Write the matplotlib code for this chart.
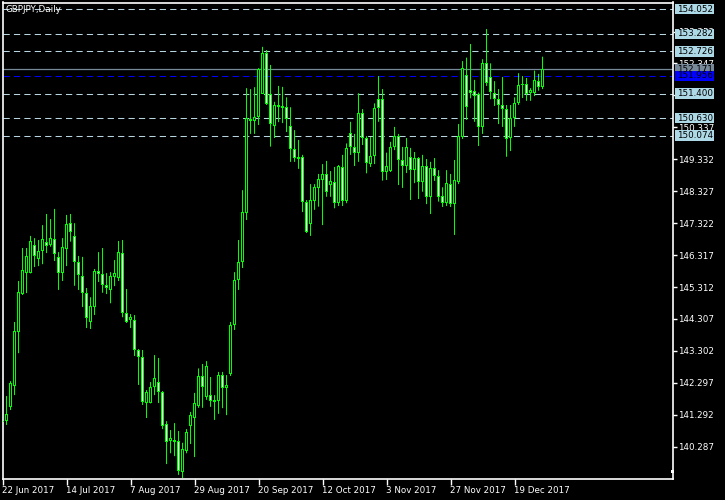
import matplotlib
matplotlib.use("Agg")
import matplotlib.pyplot as plt
from matplotlib.patches import Rectangle
from matplotlib.transforms import blended_transform_factory
import numpy as np

title = "GBPJPY,Daily"

opens = [141.05, 141.10, 141.54, 142.20, 143.90, 145.09, 145.75, 145.76, 146.63, 146.19,
         146.44, 146.73, 146.63, 146.82, 146.26, 145.75, 146.51, 147.32, 146.92, 146.10,
         145.67, 145.12, 144.21, 144.68, 145.82, 145.72, 145.37, 145.22, 145.63, 145.59,
         146.38, 144.49, 144.27, 144.27, 143.33, 143.11, 141.66, 141.67, 142.17, 142.32,
         142.00, 140.99, 140.47, 140.50, 140.47, 139.49, 140.15, 140.94, 141.19, 141.57,
         142.51, 141.85, 141.91, 141.70, 141.73, 142.54, 142.13, 142.57, 144.12, 145.53,
         146.10, 147.64, 150.60, 150.54, 150.66, 151.40, 152.67, 151.37, 150.38, 151.04,
         150.95, 150.97, 150.38, 149.66, 149.41, 149.40, 147.98, 147.29, 148.03, 148.43,
         148.68, 148.87, 148.52, 148.62, 147.96, 149.09, 148.02, 150.15, 149.72, 149.53,
         150.79, 150.00, 149.18, 149.44, 151.22, 151.22, 148.94, 148.96, 149.72, 150.06,
         149.31, 149.12, 149.41, 149.00, 149.37, 148.62, 149.12, 148.15, 149.05, 148.81,
         148.18, 147.96, 148.55, 147.92, 148.62, 150.03, 151.98, 151.51, 151.49, 151.39,
         150.34, 152.35, 151.92, 151.42, 151.22, 151.04, 150.91, 150.00, 150.63, 151.09,
         151.67, 151.70, 151.42, 151.42, 151.80, 151.60]
highs = [141.25, 141.88, 142.35, 144.21, 145.50, 146.54, 146.54, 146.92, 146.85, 146.79,
         147.26, 147.61, 147.45, 147.77, 146.41, 146.85, 147.58, 147.61, 147.32, 146.29,
         146.26, 145.28, 144.99, 145.88, 146.41, 146.54, 145.75, 145.78, 146.16, 146.76,
         146.79, 145.25, 144.46, 144.43, 143.36, 143.33, 142.07, 142.32, 143.17, 143.08,
         142.04, 141.09, 140.81, 141.03, 140.78, 140.41, 140.84, 141.38, 141.98, 142.75,
         142.89, 142.98, 142.48, 141.91, 142.64, 142.64, 142.54, 144.21, 145.78, 146.79,
         148.36, 151.57, 151.54, 151.60, 152.20, 152.87, 152.77, 152.30, 151.14, 151.64,
         151.61, 151.28, 150.97, 150.25, 149.94, 149.47, 148.05, 148.55, 148.55, 148.87,
         149.18, 149.28, 148.96, 149.09, 149.15, 149.47, 149.83, 150.51, 150.13, 151.41,
         150.91, 150.06, 150.03, 151.09, 151.95, 151.54, 149.54, 149.88, 150.35, 150.13,
         149.72, 150.00, 149.69, 149.56, 149.40, 149.47, 149.34, 149.25, 149.37, 148.99,
         148.45, 148.99, 148.87, 149.31, 150.44, 152.42, 152.53, 152.96, 151.83, 151.43,
         152.48, 153.43, 152.35, 151.79, 151.54, 151.92, 151.04, 151.04, 151.28, 152.04,
         151.95, 151.89, 151.57, 152.12, 152.02, 152.56]
lows = [140.90, 140.97, 141.44, 141.91, 143.23, 145.06, 145.12, 145.74, 145.94, 145.97,
        146.03, 146.38, 146.58, 146.13, 145.22, 145.50, 145.97, 146.74, 145.35, 145.22,
        144.68, 144.02, 143.99, 144.43, 145.47, 145.13, 145.09, 144.80, 145.34, 145.50,
        144.36, 144.18, 144.02, 143.14, 142.23, 141.60, 141.19, 141.65, 141.91, 141.66,
        140.84, 139.74, 140.08, 139.99, 139.40, 139.30, 140.08, 140.37, 139.96, 141.51,
        141.51, 141.76, 141.54, 141.13, 141.32, 141.50, 141.28, 142.51, 143.96, 145.22,
        145.91, 147.42, 150.13, 150.13, 150.41, 151.39, 151.04, 149.73, 150.00, 150.50,
        150.47, 150.19, 149.25, 149.25, 149.03, 147.67, 147.01, 146.92, 147.74, 147.84,
        147.26, 148.15, 148.15, 147.79, 147.86, 147.86, 147.95, 149.47, 149.12, 149.25,
        149.78, 148.89, 149.09, 149.18, 150.51, 148.66, 148.68, 148.93, 149.62, 148.52,
        148.43, 148.90, 148.05, 148.58, 148.08, 148.31, 147.92, 147.61, 148.65, 148.00,
        147.83, 147.86, 147.83, 146.95, 148.55, 149.97, 150.57, 151.25, 150.51, 149.75,
        150.13, 151.64, 151.22, 151.01, 150.44, 150.35, 149.41, 149.59, 150.35, 151.04,
        151.26, 151.17, 151.17, 151.32, 151.49, 151.54]
closes = [141.10, 141.32, 142.29, 143.93, 145.15, 145.85, 146.29, 146.76, 146.29, 146.44,
          146.82, 146.60, 146.85, 146.35, 145.75, 146.57, 147.30, 147.04, 146.10, 145.69,
          145.12, 144.34, 144.72, 145.82, 145.72, 145.37, 145.28, 145.66, 145.75, 146.41,
          144.49, 144.21, 144.37, 143.33, 143.11, 141.70, 142.00, 142.17, 142.45, 142.00,
          140.94, 140.43, 140.55, 140.43, 139.52, 140.21, 140.75, 141.28, 141.66, 142.51,
          142.17, 142.83, 141.73, 141.76, 142.54, 142.13, 142.23, 144.12, 145.53, 146.10,
          147.66, 150.63, 150.54, 150.66, 152.18, 152.67, 151.07, 150.44, 151.04, 150.98,
          151.01, 150.59, 149.66, 149.37, 149.34, 147.98, 147.05, 148.05, 148.45, 148.71,
          148.87, 148.31, 148.65, 147.96, 149.12, 148.02, 149.69, 149.71, 149.53, 150.78,
          150.00, 149.21, 149.44, 150.94, 150.94, 148.94, 149.12, 149.72, 150.06, 149.31,
          149.12, 149.72, 149.00, 149.37, 148.62, 149.12, 148.13, 149.05, 148.81, 148.15,
          147.96, 148.58, 147.92, 148.68, 150.06, 152.20, 150.98, 151.42, 151.32, 150.34,
          152.35, 151.73, 151.46, 151.22, 151.04, 150.91, 149.97, 150.63, 151.09, 151.67,
          151.70, 151.39, 151.51, 151.83, 151.60, 152.17]

date_labels = ["22 Jun 2017", "14 Jul 2017", "7 Aug 2017", "29 Aug 2017", "20 Sep 2017",
               "12 Oct 2017", "3 Nov 2017", "27 Nov 2017", "19 Dec 2017"]
date_positions = [0, 16, 32, 48, 64, 80, 96, 112, 128]

ytick_values = [140.287, 141.292, 142.297, 143.302, 144.307, 145.312, 146.317,
                147.322, 148.327, 149.332, 150.337, 151.342, 152.347, 153.352]

hline_levels = [154.052, 153.282, 152.726, 151.400, 150.630, 150.074]
bid_level = 152.171
blue_level = 151.956

W, H = 725, 500
fig = plt.figure(figsize=(W / 100, H / 100), dpi=100, facecolor="black")
L, R, T, B = 2.5, 672.5, 2.5, 479.0
ax = fig.add_axes([L / W, 1 - B / H, (R - L) / W, (B - T) / H])
ax.set_facecolor("black")

ymin, ymax = 139.27, 154.265
ax.set_ylim(ymin, ymax)
ax.set_xlim(0.0, (R - L) / 4)
px = (ymax - ymin) / (B - T)  # price per pixel

green = "#00ff00"
x = np.arange(len(opens))
o = np.array(opens); c = np.array(closes)
wicks = ax.vlines(x, lows, highs, color=green, lw=0.72, zorder=3)
wicks.set_snap(False)
bottoms = np.minimum(o, c)
tops = np.maximum(o, c)
outer = ax.bar(x, np.maximum(tops - bottoms, px), bottom=bottoms, width=0.75,
               color=green, edgecolor="none", zorder=4)
fills = ["black" if cc >= oo else "white" for oo, cc in zip(o, c)]
inner = ax.bar(x, np.maximum(tops - bottoms - 2 * px, 0), bottom=bottoms + px,
               width=0.25, color=fills, edgecolor="none", zorder=5)

# horizontal lines
for lv in hline_levels:
    ax.axhline(lv, color="#b8d4e0", lw=0.75, linestyle=(0, (6, 4)), zorder=2)
ax.axhline(bid_level, color="#778899", lw=0.9, zorder=2)
ax.axhline(blue_level, color="#0000ff", lw=0.75, linestyle=(0, (6, 4)), zorder=2)

for s in ax.spines.values():
    s.set_color("white")
    s.set_linewidth(1.2)

ax.yaxis.tick_right()
ax.set_yticks(ytick_values)
ax.set_yticklabels([f"{v:.3f}" for v in ytick_values])
ax.tick_params(axis="y", colors="white", labelsize=6.3, length=3, width=1, pad=1)
ax.set_xticks(date_positions)
ax.set_xticklabels(date_labels, ha="left")
ax.tick_params(axis="x", colors="white", labelsize=6.3, length=4, width=1, pad=1)

# price labels on right
tr = blended_transform_factory(fig.transFigure, ax.transData)
def price_label(lv, bg, fg, z):
    rect = Rectangle((675 / W, lv - 5.2 * px), 39 / W, 10.4 * px, transform=tr,
                     facecolor=bg, edgecolor="none", clip_on=False, zorder=z)
    ax.add_patch(rect)
    ax.text(677 / W, lv, f"{lv:.3f}", transform=tr, color=fg, fontsize=6.3,
            va="center", ha="left", clip_on=False, zorder=z + 0.1)

for lv in hline_levels:
    price_label(lv, "#add8e6", "black", 10)
price_label(bid_level, "#778899", "black", 11)
price_label(blue_level, "#0000ff", "black", 12)

# chart shift marker
fig.patches.append(Rectangle((670.5 / W, 1 - 473 / H), 3 / W, 3 / H,
                             transform=fig.transFigure, facecolor="white",
                             edgecolor="none"))

fig.text(6 / W, 1 - 9 / H, title, color="white", fontsize=6.3, va="center", ha="left")

fig.savefig("out.png", dpi=100, facecolor="black")
